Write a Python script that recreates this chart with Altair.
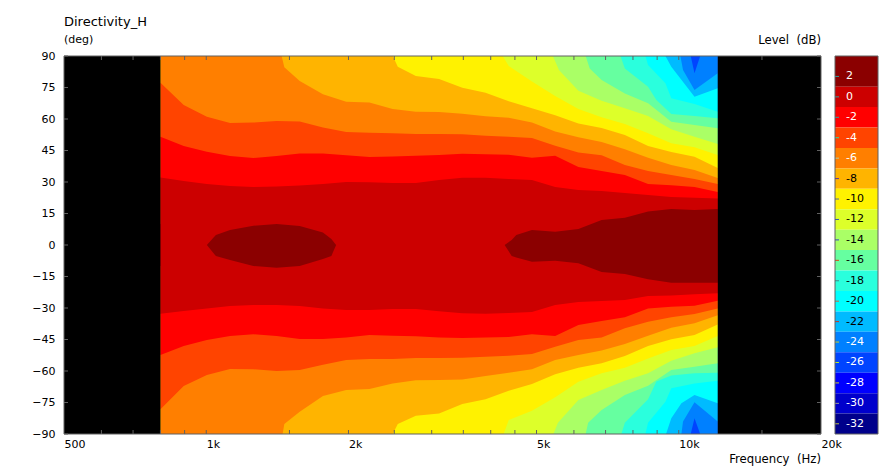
import altair as alt
import pandas as pd

FONT = "DejaVu Sans"

# Frequency grid (Hz) shared by the three inner contour levels
FREQ = [800, 896, 1003, 1123, 1258, 1409, 1577, 1766, 1978, 2215, 2480, 2777, 3110,
        3483, 3900, 4367, 4890, 5476, 6132, 6867, 7690, 8611, 9643, 10798, 12092]
TAIL = [4367, 4890, 5476, 6132, 6867, 7690, 8611, 9643, 10798, 12092]

# Contour angles (deg): upper (+) and lower (-) side of each level
UP_M1 = [32.1, 30.5, 29.1, 28.1, 27.6, 27.8, 28.3, 29.1, 30, 29.9, 29.5, 29.5, 31, 32, 32,
         31.4, 31, 27.6, 26.2, 25.7, 24.8, 23.8, 22.9, 22.5, 22.2]
LO_M1 = [-32.7, -31.4, -30.2, -29, -28.6, -28.6, -29, -30.2, -31, -31, -30.5, -30.5, -31.6, -32.5, -32.7,
         -32.4, -31.9, -28.6, -27.1, -26.7, -26.2, -24.3, -24, -23.5, -23]
UP_M3 = [51.6, 47.1, 44.4, 42.4, 41.4, 42.4, 43.6, 43.6, 42.7, 41.9, 42.1, 42.5, 42.9, 43.4, 43.2,
         43, 41.6, 42.5, 37.1, 35.2, 33.3, 29, 28.4, 27.6, 25.2]
LO_M3 = [-52.4, -48.1, -45.2, -43.3, -42.5, -43.3, -44.8, -44.8, -44, -42.9, -43.2, -43.5, -44, -44.3, -44.1,
         -43.8, -42.5, -43.3, -38.1, -36.2, -34.4, -30.2, -29.4, -28.9, -26.5]
UP_M5 = [77.3, 66.7, 61.1, 58.1, 58.3, 59, 58.8, 56, 53.8, 53.5, 53.2, 52.9, 52.9, 52.7, 52,
         51.6, 51, 47.3, 44, 42.7, 38.1, 35.2, 33.3, 31.4, 29]
LO_M5 = [-78.2, -67.1, -61.9, -59, -59.2, -60, -59.5, -57, -54.8, -54.3, -54.3, -53.8, -53.8, -53.7, -53.2,
         -52.7, -51.9, -48.4, -45.2, -44, -39.7, -36.5, -34.4, -32.9, -30.2]

F_UP_M7 = [800, 1444, 1463, 1577, 1766, 1978, 2215, 2480, 2777, 3110, 3483, 3900] + TAIL
UP_M7 = [90, 90, 84.6, 78.1, 71.8, 68.2, 67.8, 64.8, 63.5, 63.3, 62.5, 61.3,
         60.6, 58.3, 54, 51.3, 49, 45.6, 41.6, 38.1, 35.7, 31.9]
F_LO_M7 = [800, 1451, 1463, 1577, 1766, 1978, 2215, 2480, 2777, 3110, 3483, 3900] + TAIL
LO_M7 = [-90, -90, -85.2, -79.4, -71.9, -69, -68.6, -65.9, -64.4, -64.3, -64, -62.4,
         -60.8, -59.2, -54.8, -52.4, -50.2, -47.1, -43.2, -39.4, -37.3, -33.5]

F_M9 = [800, 2482, 2543, 2777, 3110, 3483, 3900] + TAIL
UP_M9 = [90, 90, 84.9, 80.5, 79, 74.9, 72.5, 68.4, 65.1, 61.8, 57.9, 55.7, 52.4, 47.1, 44.3, 42, 36.7]
LO_M9 = [-90, -90, -85.2, -81.3, -80.2, -75.7, -73.5, -69.4, -66.2, -61.6, -58.4, -56.3, -52.9, -48.1, -44.9, -42.9, -37.8]

F_UP_M11 = [800, 4240] + TAIL
UP_M11 = [90, 90, 85.2, 77.8, 71, 64.8, 60.8, 57.6, 53.2, 48.4, 46.5, 42.9]
F_LO_M11 = [800, 4260] + TAIL
LO_M11 = [-90, -90, -83.3, -78.9, -72.5, -65.1, -61.1, -58.4, -54, -50, -48.1, -43.3]

F_UP_M13 = [800, 5416, 5578, 6132, 6867, 7690, 8611, 9643, 10798, 12092]
UP_M13 = [90, 90, 83.3, 73.5, 68.7, 65.1, 61.4, 55.1, 51.6, 48.1]
F_LO_M13 = [800, 5430, 5550, 6132, 6867, 7690, 8611, 9643, 10798, 12092]
LO_M13 = [-90, -90, -84.6, -73.8, -69, -64.6, -61.1, -55.1, -51.6, -48.7]

F_UP_M15 = [800, 6353, 6480, 6867, 7690, 8611, 9643, 10798, 12092]
UP_M15 = [90, 90, 84.1, 78.6, 72.2, 67.5, 58.7, 57.1, 55.6]
F_LO_M15 = [800, 6353, 6430, 6867, 7690, 8611, 9643, 10798, 12092]
LO_M15 = [-90, -90, -84.6, -78.6, -71.4, -67, -59.5, -58, -56.3]

F_UP_M17 = [800, 7526, 7690, 8611, 8967, 9643, 10798, 12092]
UP_M17 = [90, 90, 84.1, 75.4, 69, 62.4, 61.4, 60.3]
F_LO_M17 = [800, 7560, 7690, 8611, 8967, 9643, 10798, 12092]
LO_M17 = [-90, -90, -84.6, -73.5, -65, -62.2, -61.1, -60.8]

F_M19 = [800, 8500, 8610, 9370, 9643, 10798, 12092]
UP_M19 = [90, 90, 85.7, 77, 69.9, 67.1, 63.5]
LO_M19 = [-90, -90, -84.6, -74.6, -68.2, -65.9, -64.6]

F_UP_M21 = [800, 9370, 9643, 10798, 12092]
UP_M21 = [90, 90, 84.9, 70.6, 74.6]
F_LO_M21 = [800, 9400, 9643, 10130, 10798, 12092]
LO_M21 = [-90, -90, -82.5, -75.4, -71.4, -75.4]

F_UP_M23 = [800, 10080, 10210, 10798, 12092]
UP_M23 = [90, 90, 83.3, 73.8, 81.8]
F_LO_M23 = [800, 10130, 10210, 10798, 12092]
LO_M23 = [-90, -90, -84.1, -74.9, -84.1]

F_M25 = [800, 10600, 10798, 11100, 12092]
UP_M25 = [90, 90, 81.8, 90, 90]
LO_M25 = [-90, -90, -82.5, -90, -90]

# The two +1 dB islands: frequency, upper angle, lower angle
F_ISLE1 = [1003, 1048, 1123, 1258, 1409, 1577, 1766, 1840, 1883]
UP_ISLE1 = [0, 4.8, 7.1, 9.2, 10, 9, 6, 2.8, 0]
LO_ISLE1 = [0, -5.2, -7.1, -10, -10.8, -10, -6.7, -5.2, 0]
F_ISLE2 = [4280, 4430, 4530, 4890, 5476, 6132, 6867, 7690, 8611, 9643, 10798, 12092]
UP_ISLE2 = [0, 2.4, 4.8, 7.1, 6.3, 7.6, 11.9, 13, 15.9, 17.1, 16.7, 17.1]
LO_ISLE2 = [0, -5.2, -6, -8, -7.5, -8.7, -12.9, -13.8, -16.3, -18, -18, -18]

# Colour bar
LEVELS = [2, 0, -2, -4, -6, -8, -10, -12, -14, -16, -18, -20, -22, -24, -26, -28, -30, -32]
PALETTE = ["#8B0000", "#CC0000", "#FF0000", "#FF4400", "#FF7F00", "#FFB400", "#FFF200", "#DDFF2A", "#AAFF66",
           "#66FFA0", "#2AFFDD", "#00FFFF", "#00BBFF", "#0080FF", "#0044FF", "#0000FF", "#0000CC", "#00008B"]
LABEL_INK = ["white"] * 5 + ["black"] * 8 + ["white"] * 5
TICK_INK = ["#2AA0A0", "#2AA0A0", "#2AA0A0", "#22DDAA", "#AACCAA", "#5533AA", "#5566AA", "#3355BB", "#3344CC",
            "#E04010", "#448888", "#CC6644", "#CC3322", "#CCCC22", "#BBEE22", "#CCCC22", "#999999", "#BBBB44"]

# Axes
X_LABELS = [500, 1000, 2000, 5000, 10000, 20000]
X_TICKS = [600, 700, 800, 900, 1000, 1500, 2000, 2500, 3000, 3500, 4000, 4500, 5000, 6000, 7000, 8000, 9000,
           10000, 15000]
Y_TICKS = [-90, -75, -60, -45, -30, -15, 0, 15, 30, 45, 60, 75, 90]
FRAME = "#606060"
W, H, BAR_W = 757, 378, 43


def colour_of(level):
    return PALETTE[LEVELS.index(level)]


SERIES = [
    ("u25", F_M25, UP_M25, -10, -24), ("l25", F_M25, LO_M25, 10, -24),
    ("u23", F_UP_M23, UP_M23, -10, -22), ("l23", F_LO_M23, LO_M23, 10, -22),
    ("u21", F_UP_M21, UP_M21, -10, -20), ("l21", F_LO_M21, LO_M21, 10, -20),
    ("u19", F_M19, UP_M19, -10, -18), ("l19", F_M19, LO_M19, 10, -18),
    ("u17", F_UP_M17, UP_M17, -10, -16), ("l17", F_LO_M17, LO_M17, 10, -16),
    ("u15", F_UP_M15, UP_M15, -10, -14), ("l15", F_LO_M15, LO_M15, 10, -14),
    ("u13", F_UP_M13, UP_M13, -10, -12), ("l13", F_LO_M13, LO_M13, 10, -12),
    ("u11", F_UP_M11, UP_M11, -10, -10), ("l11", F_LO_M11, LO_M11, 10, -10),
    ("u09", F_M9, UP_M9, -10, -8), ("l09", F_M9, LO_M9, 10, -8),
    ("u07", F_UP_M7, UP_M7, -10, -6), ("l07", F_LO_M7, LO_M7, 10, -6),
    ("u05", FREQ, UP_M5, -10, -4), ("l05", FREQ, LO_M5, 10, -4),
    ("u03", FREQ, UP_M3, -10, -2), ("l03", FREQ, LO_M3, 10, -2),
    ("u01", FREQ, UP_M1, -10, 0), ("l01", FREQ, LO_M1, 10, 0),
]

rows = []
for name, freqs, degs, base, level in SERIES:
    for f, d in zip(freqs, degs):
        rows.append({"series": name, "freq": f, "deg": d, "base": base, "fill": colour_of(level)})
for name, freqs, ups, los in (("i1", F_ISLE1, UP_ISLE1, LO_ISLE1), ("i2", F_ISLE2, UP_ISLE2, LO_ISLE2)):
    for f, u, l in zip(freqs, ups, los):
        rows.append({"series": name, "freq": f, "deg": u, "base": l, "fill": colour_of(2)})
bands = pd.DataFrame(rows)

x_scale = alt.Scale(type="log", base=10, domain=[500, 20000], nice=False)
y_scale = alt.Scale(domain=[-90, 90], nice=False)

x_axis = alt.Axis(values=X_LABELS, title=None, grid=False, domain=False, ticks=False, labelAlign="left",
                  labelBaseline="middle", labelPadding=10, labelFlush=False, labelOverlap=False, labelBound=False,
                  labelFont=FONT, labelFontSize=11, labelColor="black",
                  labelExpr="datum.value >= 1000 ? (datum.value / 1000) + 'k' : '' + datum.value")
y_axis = alt.Axis(values=Y_TICKS, title=None, grid=False, domain=False, ticks=False, labelPadding=9,
                  labelFont=FONT, labelFontSize=11, labelColor="black", labelFlush=False, labelOverlap=False,
                  labelBound=False, minExtent=40, maxExtent=40)
x_enc = alt.X("freq:Q", scale=x_scale, axis=x_axis)
y_enc = alt.Y("deg:Q", scale=y_scale, axis=y_axis)

floor = alt.Chart(pd.DataFrame({"freq": [800], "freq2": [12092], "deg": [-90], "deg2": [90]})).mark_rect(
    color=colour_of(-26), strokeWidth=0).encode(x=x_enc, x2="freq2:Q", y=y_enc, y2="deg2:Q")

areas = alt.Chart(bands).mark_area(interpolate="linear", strokeWidth=0).encode(
    x=x_enc, y=y_enc, y2="base:Q",
    color=alt.Color("fill:N", scale=None), detail="series:N")

black = alt.Chart(pd.DataFrame({"freq": [500, 12092], "freq2": [800, 20000], "deg": [-90, -90], "deg2": [90, 90]})).mark_rect(
    color="black", strokeWidth=0).encode(x=x_enc, x2="freq2:Q", y=y_enc, y2="deg2:Q")

x_ticks = pd.DataFrame({"freq": X_TICKS})
y_ticks = pd.DataFrame({"deg": Y_TICKS})
top_ticks = alt.Chart(x_ticks).mark_rule(color=FRAME).encode(x=x_enc, y=alt.value(0), y2=alt.value(4))
bottom_ticks = alt.Chart(x_ticks).mark_rule(color=FRAME).encode(x=x_enc, y=alt.value(H - 4), y2=alt.value(H))
left_ticks = alt.Chart(y_ticks).mark_rule(color=FRAME).encode(y=y_enc, x=alt.value(0), x2=alt.value(4))
right_ticks = alt.Chart(y_ticks).mark_rule(color=FRAME).encode(y=y_enc, x=alt.value(W - 4), x2=alt.value(W))

frame = alt.Chart(pd.DataFrame({"freq": [500], "freq2": [20000], "deg": [-90], "deg2": [90]})).mark_rect(
    filled=False, stroke=FRAME, strokeWidth=1).encode(x=x_enc, x2="freq2:Q", y=y_enc, y2="deg2:Q")


def note(text, x, y, align="left", size=11):
    return alt.Chart(pd.DataFrame({"t": [text]})).mark_text(
        align=align, baseline="middle", font=FONT, fontSize=size, color="black").encode(
        text="t:N", x=alt.value(x), y=alt.value(y))


main = alt.layer(
    floor, areas, black, top_ticks, bottom_ticks, left_ticks, right_ticks, frame,
    note("Directivity_H", 0, -34, size=13),
    note("(deg)", 0, -16),
    note("Level\u00a0\u00a0(dB)", W, -16, align="right", size=11.7),
    note("Frequency\u00a0\u00a0(Hz)", W, H + 25, align="right", size=11.7),
).properties(width=W, height=H)

bar_df = pd.DataFrame({
    "level": LEVELS,
    "low": [v - 1 for v in LEVELS],
    "high": [v + 1 if v < 2 else 4 for v in LEVELS],
    "fill": PALETTE, "ink": LABEL_INK, "tick": TICK_INK,
    "label": [str(v) for v in LEVELS],
})
bar_scale = alt.Scale(domain=[-33, 4], nice=False)
bar_rect = alt.Chart(bar_df).mark_rect(strokeWidth=0).encode(
    x=alt.value(0), x2=alt.value(BAR_W),
    y=alt.Y("low:Q", scale=bar_scale, axis=None), y2="high:Q",
    color=alt.Color("fill:N", scale=None))
bar_tick = alt.Chart(bar_df).mark_rule().encode(
    x=alt.value(0), x2=alt.value(4),
    y=alt.Y("level:Q", scale=bar_scale, axis=None),
    color=alt.Color("tick:N", scale=None))
bar_text = alt.Chart(bar_df).mark_text(align="left", baseline="middle", font=FONT, fontSize=11).encode(
    x=alt.value(11), text="label:N",
    y=alt.Y("level:Q", scale=bar_scale, axis=None),
    color=alt.Color("ink:N", scale=None))
bar_frame = alt.Chart(pd.DataFrame({"low": [-33], "high": [4]})).mark_rect(
    filled=False, stroke=FRAME, strokeWidth=1).encode(
    x=alt.value(0), x2=alt.value(BAR_W),
    y=alt.Y("low:Q", scale=bar_scale, axis=None), y2="high:Q")
bar = alt.layer(bar_rect, bar_tick, bar_text, bar_frame).properties(width=BAR_W, height=H)

chart = alt.hconcat(main, bar, spacing=14, bounds="flush").resolve_scale(x="independent", y="independent", color="independent").properties(
    background="white",
    padding={"left": 16, "top": 8, "right": 0, "bottom": 0},
).configure_view(strokeWidth=0)

chart.save("out.html", embed_options={"renderer": "svg", "actions": False})
